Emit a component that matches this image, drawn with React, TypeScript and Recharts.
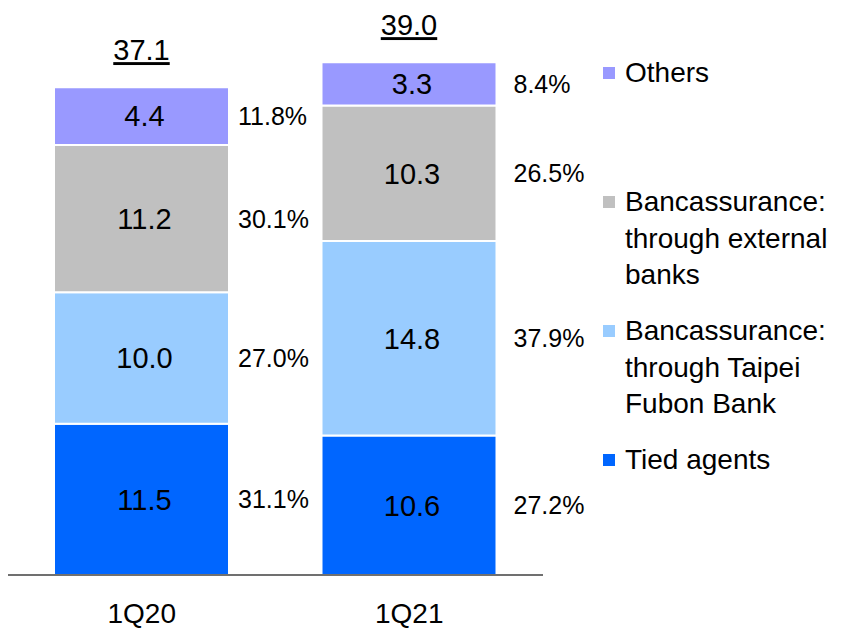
import { BarChart, Bar, XAxis, YAxis, LabelList } from 'recharts';

const quarters = ['1Q20', '1Q21'];
const tiedAgents = [11.5, 10.6];
const taipeiFubon = [10.0, 14.8];
const externalBanks = [11.2, 10.3];
const others = [4.4, 3.3];
const totals = [37.1, 39.0];

const tiedPct = ['31.1%', '27.2%'];
const taipeiPct = ['27.0%', '37.9%'];
const externalPct = ['30.1%', '26.5%'];
const othersPct = ['11.8%', '8.4%'];

const FONT = '"Liberation Sans", Arial, sans-serif';

// stacking order bottom -> top
const series = [
  { key: 'tied', lines: ['Tied agents'], color: '#0066FF', pct: tiedPct },
  { key: 'taipei', lines: ['Bancassurance:', 'through Taipei', 'Fubon Bank'], color: '#99CCFF', pct: taipeiPct },
  { key: 'external', lines: ['Bancassurance:', 'through external', 'banks'], color: '#C0C0C0', pct: externalPct },
  { key: 'others', lines: ['Others'], color: '#9999FF', pct: othersPct },
];

const data = quarters.map((q, i) => ({
  quarter: q,
  tied: tiedAgents[i],
  taipei: taipeiFubon[i],
  external: externalBanks[i],
  others: others[i],
  total: totals[i],
}));

const pctLabel = (pct: string[]) => (props: any) => {
  const { x, y, width, height, index } = props;
  // second column of shares sits a bit further from its bar
  const gap = index === 0 ? 9 : 17;
  return (
    <text x={x + width + gap} y={y + height / 2} dominantBaseline="central" fontSize={25} fontFamily={FONT} fill="#000">
      {pct[index]}
    </text>
  );
};

const totalLabel = (props: any) => {
  const { x, y, width, index } = props;
  return (
    <text x={x + width / 2} y={y - 27} textAnchor="middle" fontSize={29} fontFamily={FONT} fill="#000" textDecoration="underline">
      {totals[index].toFixed(1)}
    </text>
  );
};

const QuarterTick = (props: any) => {
  const { x, y, payload } = props;
  return (
    <text x={x} y={y + 48} textAnchor="middle" fontSize={28} fontFamily={FONT} fill="#000">
      {payload.value}
    </text>
  );
};

function LegendBox() {
  const items = [...series].reverse();
  return (
    <div style={{ position: 'absolute', left: 603, top: 55, fontFamily: FONT, fontSize: 28, lineHeight: '36.5px', color: '#000' }}>
      {items.map((s) => (
        <div key={s.key} style={{ height: 129, position: 'relative', paddingLeft: 22 }}>
          <span style={{ position: 'absolute', left: 0, top: 12, width: 12, height: 12, background: s.color }} />
          {s.lines.map((l) => (
            <div key={l} style={{ whiteSpace: 'nowrap' }}>{l}</div>
          ))}
        </div>
      ))}
    </div>
  );
}

export default function App() {
  return (
    <div style={{ position: 'absolute', left: 0, top: 0, width: 857, height: 628, background: '#fff' }}>
      <BarChart width={857} height={628} data={data} margin={{ top: 49, right: 314, bottom: 0, left: 8 }} barSize={175}>
        <XAxis
          dataKey="quarter"
          height={53}
          tickLine={false}
          tickSize={0}
          tickMargin={0}
          axisLine={{ stroke: '#404040', strokeWidth: 1.5 }}
          tick={<QuarterTick />}
        />
        <YAxis hide domain={[0, 40]} />
        {series.map((s) => (
          <Bar key={s.key} dataKey={s.key} stackId="a" fill={s.color} stroke="#fff" strokeWidth={2} isAnimationActive={false}>
            <LabelList dataKey={s.key} position="center" fontSize={29} fontFamily={FONT} fill="#000" formatter={(v: any) => Number(v).toFixed(1)} dx={3} />
            <LabelList dataKey={s.key} content={pctLabel(s.pct)} />
            {s.key === 'others' && <LabelList dataKey="total" content={totalLabel} />}
          </Bar>
        ))}
      </BarChart>
      <LegendBox />
    </div>
  );
}
